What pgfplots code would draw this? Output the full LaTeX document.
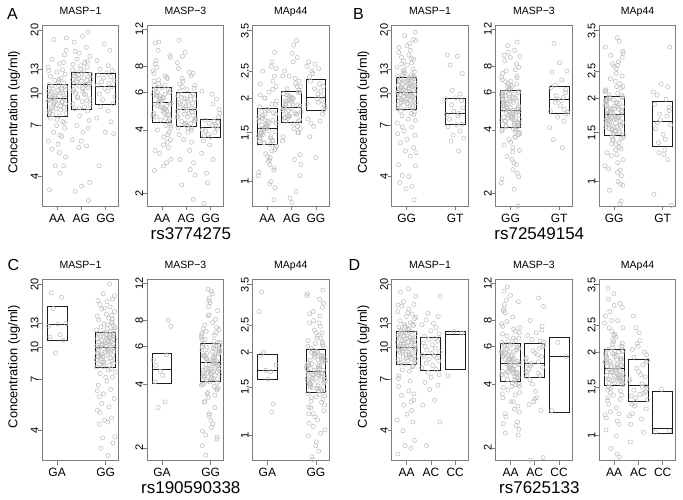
\documentclass[border=0pt]{standalone}
\usepackage{pgfplots}
\pgfplotsset{compat=1.18}
\usepackage{pgfplotstable}
\usepackage{fontspec}
\setmainfont{Liberation Sans}
\definecolor{ptgray}{RGB}{190,190,190}
\definecolor{framegray}{RGB}{125,125,125}
\definecolor{boxcol}{RGB}{30,30,30}

\pgfplotstableread{
j m1 m3 m44
-0.31 3.46 2.57 1.86
0.12 4.15 6.5 1.36
0.27 4.5 4.4 0.86
-0.08 4.5 5.45 1.57
0.35 4.95 3.6 2.2
-0.22 5.4 7.9 1.47
0.04 5.7 4.9 1.18
-0.36 5.9 5.9 1.71
0.19 6.2 2.8 1.9
-0.14 6.5 6.6 1.38
0.31 6.8 4.5 0.95
-0.02 7.0 5.5 1.59
0.23 7.3 3.8 2.3
-0.28 7.6 8.2 1.49
0.09 7.8 5.0 1.2
-0.18 7.9 6.0 1.73
0.37 8.0 2.9 1.95
-0.33 8.2 6.8 1.4
0.15 8.3 4.55 1.0
-0.05 8.4 5.6 1.61
0.29 8.5 3.9 2.4
-0.25 8.6 8.5 1.5
0.01 8.8 5.1 1.23
0.34 8.9 6.1 1.75
-0.11 9.0 3.1 2.0
0.21 9.1 7.0 1.41
-0.38 9.2 4.6 1.05
0.07 9.3 5.65 1.63
-0.19 9.4 4.0 2.5
0.32 9.5 9.0 1.51
-0.07 9.7 5.15 1.26
0.25 9.8 6.2 1.77
-0.29 9.9 3.2 2.05
0.13 10.0 7.2 1.43
-0.35 10.2 4.7 1.08
0.03 10.3 5.7 1.65
0.36 10.4 4.1 2.55
-0.16 10.5 9.5 1.52
0.18 10.6 5.2 1.29
-0.24 10.8 6.3 1.79
0.06 10.9 3.4 2.1
-0.32 11.0 7.4 1.44
0.28 11.2 4.75 1.12
-0.10 11.5 5.8 1.67
0.16 11.8 4.2 2.6
-0.27 12.0 10.3 1.54
0.33 12.3 5.3 1.32
-0.01 12.6 6.35 1.82
0.22 12.9 3.5 2.15
-0.37 13.3 7.6 1.46
0.10 13.8 4.8 1.15
-0.20 14.5 5.85 1.69
0.30 15.2 4.3 2.92
-0.13 18.0 10.4 1.55
0.38 18.3 5.35 1.34
0.14 8.7 5.0 1.45
-0.23 10.1 4.6 1.6
0.30 7.2 6.0 1.3
-0.10 9.6 5.6 1.75
0.07 11.6 3.7 1.52
-0.29 8.1 5.3 2.25
0.20 9.0 7.1 1.4
-0.35 12.8 4.8 1.65
0.12 6.3 5.9 1.22
-0.05 9.8 4.45 1.56
0.34 10.7 8.8 1.9
-0.18 8.5 5.2 1.48
0.26 14.0 3.3 1.1
-0.31 9.3 6.2 1.7
0.00 7.5 5.5 1.58
0.19 10.4 4.9 2.7
-0.14 8.9 6.9 1.38
0.37 16.0 4.2 1.62
-0.24 9.5 5.8 1.5
0.09 5.2 5.1 0.98
0.05 11.3 2.7 1.8
-0.30 8.0 6.5 1.43
0.22 10.0 4.7 1.66
-0.12 9.15 5.45 2.0
}\tAaa

\pgfplotstableread{
j m1 m3 m44
0.29 3.08 1.88 2.13
-0.25 3.4 6.1 1.65
0.01 3.6 4.2 0.84
0.34 3.75 5.0 1.87
-0.11 5.5 3.6 2.4
0.21 5.6 7.2 1.75
-0.38 6.0 4.6 1.4
0.07 6.5 5.5 1.99
-0.19 7.0 2.2 2.16
0.32 7.4 6.3 1.67
-0.07 7.8 4.25 0.87
0.25 8.2 5.05 1.89
-0.29 8.4 3.8 2.5
0.13 8.6 7.5 1.77
-0.35 8.9 4.65 1.45
0.03 9.1 5.6 2.01
0.36 9.4 2.45 2.2
-0.16 9.6 6.4 1.69
0.18 9.8 4.3 0.92
-0.24 10.0 5.1 1.91
0.06 10.2 3.9 2.7
-0.32 10.4 7.8 1.79
0.28 10.6 4.7 1.5
-0.10 10.8 5.65 2.03
0.16 11.0 2.6 2.25
-0.27 11.1 6.6 1.7
0.33 11.2 4.4 1.05
-0.01 11.4 5.2 1.93
0.22 11.5 4.0 2.8
-0.37 11.6 8.3 1.81
0.10 11.8 4.8 1.55
-0.20 11.9 5.7 2.05
0.30 12.0 2.8 2.3
-0.13 12.2 6.8 1.72
0.38 12.3 4.45 1.15
-0.26 12.5 5.3 1.95
0.08 12.7 4.05 3.1
-0.04 13.0 9.3 1.83
0.24 13.3 4.85 1.58
-0.34 13.7 5.8 2.07
0.14 14.0 3.2 2.35
-0.17 14.5 7.0 1.73
0.35 15.0 4.5 1.25
-0.09 15.5 5.4 1.97
0.20 16.5 4.1 3.22
-0.30 17.5 10.6 1.85
0.05 18.7 4.9 1.62
0.27 19.5 5.9 2.09
0.05 10.5 4.6 1.9
-0.30 12.1 5.4 1.7
0.22 9.2 3.5 2.2
-0.12 11.7 5.05 1.8
0.36 8.8 6.5 1.55
-0.03 13.5 4.3 2.0
0.17 10.9 5.8 1.75
-0.37 12.9 4.9 2.4
0.28 6.8 7.4 1.65
-0.20 11.3 4.4 1.95
0.11 9.9 5.2 1.2
-0.26 15.8 2.9 1.88
0.33 11.0 5.6 2.1
-0.08 8.5 4.75 1.72
0.02 12.4 6.2 2.9
-0.34 10.2 4.1 1.84
0.25 14.2 5.35 1.5
-0.16 9.5 8.9 2.05
0.39 11.6 4.55 1.78
-0.01 5.9 5.1 1.98
}\tAag

\pgfplotstableread{
j m1 m3 m44
-0.27 4.5 1.8 2.38
0.33 6.4 4.6 1.82
-0.01 6.5 3.7 1.22
0.22 7.3 4.15 2.03
-0.37 7.6 3.1 2.6
0.10 8.2 5.3 1.93
-0.20 8.6 3.95 1.62
0.30 8.9 4.35 2.2
-0.13 9.3 2.25 2.45
0.38 9.6 4.8 1.85
-0.26 9.9 3.75 1.45
0.08 10.2 4.2 2.07
-0.04 10.5 3.4 2.65
0.24 10.7 5.6 1.96
-0.34 10.9 4.0 1.68
0.14 11.1 4.4 2.25
-0.17 11.3 2.5 2.5
0.35 11.5 5.0 1.88
-0.09 11.8 3.8 1.58
0.20 12.0 4.25 2.12
-0.30 12.2 3.55 2.7
0.05 12.5 5.9 1.99
0.27 12.8 4.05 1.75
-0.23 13.0 4.45 2.3
0.11 13.5 2.9 2.55
-0.36 14.3 6.1 1.9
0.17 16.0 3.9 1.65
-0.06 17.2 4.3 2.16
}\tAgg

\pgfplotstableread{
j m1 m3 m44
0.31 3.1 1.75 2.05
-0.02 3.5 6.2 1.48
0.23 3.6 4.12 0.83
-0.28 3.75 4.97 1.75
0.09 4.0 3.3 2.55
-0.18 4.05 7.6 1.62
0.37 4.5 4.5 1.2
-0.33 4.55 5.6 1.9
0.15 5.0 2.1 2.08
-0.05 5.3 6.3 1.49
0.29 5.5 4.15 0.85
-0.25 5.8 5.02 1.76
0.01 6.0 3.5 2.6
0.34 6.3 7.9 1.63
-0.11 6.6 4.55 1.24
0.21 6.9 5.65 1.91
-0.38 7.2 2.25 2.11
0.07 7.5 6.4 1.51
-0.19 7.8 4.2 0.93
0.32 8.1 5.1 1.78
-0.07 8.4 3.6 2.65
0.25 8.5 8.2 1.65
-0.29 8.6 4.6 1.27
0.13 8.7 5.72 1.93
-0.35 8.8 2.35 2.14
0.03 8.9 6.5 1.52
0.36 9.0 4.25 0.97
-0.16 9.1 5.15 1.79
0.18 9.2 3.7 2.7
-0.24 9.3 8.5 1.66
0.06 9.4 4.65 1.3
-0.32 9.5 5.8 1.94
0.28 9.6 2.5 2.17
-0.10 9.65 6.6 1.54
0.16 9.7 4.3 1.0
-0.27 9.8 5.2 1.81
0.33 9.85 3.8 2.8
-0.01 9.9 8.8 1.68
0.22 10.0 4.7 1.33
-0.37 10.05 5.85 1.96
0.10 10.15 2.6 2.2
-0.20 10.2 6.75 1.55
0.30 10.3 4.35 1.05
-0.13 10.4 5.28 1.82
0.38 10.5 3.85 2.9
-0.26 10.55 9.0 1.69
0.08 10.6 4.75 1.36
-0.04 10.7 5.9 1.97
0.24 10.8 2.75 2.25
-0.34 10.9 6.9 1.57
0.14 11.0 4.4 1.08
-0.17 11.1 5.35 1.84
0.35 11.2 3.9 2.95
-0.09 11.3 9.3 1.7
0.20 11.4 4.8 1.38
-0.30 11.5 5.95 1.98
0.05 11.6 2.9 2.3
0.27 11.7 7.05 1.58
-0.23 11.75 4.42 1.11
0.11 11.85 5.4 1.85
-0.36 12.0 3.95 3.05
0.17 12.2 9.5 1.71
-0.06 12.4 4.85 1.41
0.32 12.6 6.0 2.0
-0.15 12.8 3.0 2.35
0.26 13.0 7.2 1.6
-0.39 13.3 4.45 1.14
0.02 13.6 5.47 1.87
0.21 13.9 4.0 3.2
-0.12 14.2 10.0 1.72
0.29 14.5 4.88 1.43
-0.21 14.8 6.05 2.01
0.09 15.2 3.15 2.45
-0.33 15.6 7.4 1.61
0.15 16.0 4.48 1.17
-0.31 16.5 5.53 1.88
0.12 17.2 4.05 3.3
0.27 18.0 10.4 1.73
-0.08 18.8 4.92 1.45
0.35 19.5 6.1 2.02
0.05 8.9 4.6 1.62
-0.30 11.3 5.3 1.95
0.22 9.6 3.9 1.5
-0.12 12.5 6.4 1.78
0.36 7.4 4.9 2.2
-0.03 10.2 5.6 1.42
0.17 10.8 4.2 1.7
-0.37 6.4 7.1 1.88
0.28 9.1 5.0 1.31
-0.20 13.8 4.4 2.05
0.11 10.5 5.9 1.58
-0.26 8.2 3.4 1.74
0.33 11.9 5.2 2.4
-0.08 9.9 4.7 1.55
0.02 16.8 6.8 1.83
-0.34 10.1 4.0 1.66
0.25 8.6 5.5 1.1
-0.16 12.2 4.8 1.99
0.39 5.2 8.9 1.47
-0.01 9.4 5.1 1.72
0.14 11.1 2.8 2.62
-0.23 10.7 5.8 1.6
0.30 7.9 4.3 1.8
-0.10 12.9 6.2 1.37
0.07 9.7 4.5 1.92
-0.29 10.4 5.4 1.68
0.20 14.6 3.7 1.52
-0.35 8.4 6.0 2.12
0.12 11.6 4.95 1.25
-0.05 9.2 5.7 1.76
0.34 10.9 2.4 1.86
-0.18 6.9 4.15 1.64
0.26 12.0 6.6 0.98
-0.31 9.5 5.25 1.97
0.00 11.4 4.6 1.57
0.19 8.0 7.7 1.82
-0.14 10.3 5.05 2.85
0.37 17.8 3.2 1.44
-0.24 9.0 5.45 1.73
0.09 11.0 4.85 1.69
}\tBgg

\pgfplotstableread{
j m1 m3 m44
0.14 5.3 3.3 1.98
-0.17 5.9 6.5 1.38
0.35 6.1 4.85 0.82
-0.09 6.3 5.6 1.67
0.20 6.6 4.4 2.2
-0.30 6.9 7.5 1.55
0.05 7.05 5.2 1.25
0.27 7.1 6.0 1.8
-0.23 7.5 3.6 2.05
0.11 7.8 6.9 1.42
-0.36 7.9 4.9 0.9
0.17 8.0 5.7 1.72
-0.06 8.2 4.6 2.25
0.32 8.5 7.6 1.6
-0.15 8.8 5.4 1.27
0.26 9.2 6.2 1.85
-0.39 9.4 4.1 2.1
0.02 9.5 8.3 1.48
0.21 9.9 5.0 1.2
-0.12 10.3 5.8 1.75
0.29 12.4 4.75 3.05
-0.21 13.6 10.25 1.63
0.09 15.0 5.5 1.3
-0.33 15.2 6.35 1.9
}\tBgt

\pgfplotstableread{
j m1 m3 m44
-0.07 9.4 4.6 1.72
0.25 10.8 8.0 1.3
-0.29 11.2 4.1 1.95
0.13 11.5 3.3 1.7
-0.35 12.6 5.2 2.8
0.03 12.9 4.4 1.6
0.36 13.0 7.5 1.8
-0.16 15.3 3.1 2.0
0.18 17.3 5.5 1.22
-0.24 18.2 4.9 3.3
}\tCga

\pgfplotstableread{
j m1 m3 m44
0.10 3.05 5.1 1.45
-0.20 3.3 1.85 2.06
0.30 3.5 6.3 1.72
-0.13 3.7 4.15 0.82
0.38 3.75 5.7 1.58
-0.26 4.3 3.3 2.55
0.08 4.4 7.8 1.88
-0.04 4.5 4.6 1.17
0.24 4.6 5.15 1.46
-0.34 5.0 2.05 2.1
0.14 5.2 6.4 1.74
-0.17 5.4 4.2 0.84
0.35 5.7 5.75 1.6
-0.09 6.0 3.45 2.6
0.20 6.3 8.1 1.9
-0.30 6.6 4.65 1.2
0.05 6.9 5.2 1.48
0.27 7.2 2.2 2.13
-0.23 7.5 6.5 1.75
0.11 7.8 4.25 0.88
-0.36 8.05 5.8 1.61
0.17 8.2 3.55 2.7
-0.06 8.3 8.5 1.92
0.32 8.4 4.7 1.23
-0.15 8.5 5.27 1.49
0.26 8.6 2.25 2.17
-0.39 8.7 6.65 1.77
0.02 8.8 4.3 0.95
0.21 8.9 5.85 1.63
-0.12 9.0 3.65 2.8
0.29 9.1 8.9 1.93
-0.21 9.2 4.75 1.26
0.09 9.3 5.33 1.51
-0.33 9.4 2.4 2.2
0.15 9.5 6.8 1.79
-0.31 9.6 4.35 1.0
0.12 9.7 5.9 1.64
0.27 9.8 3.75 2.9
-0.08 9.85 9.3 1.95
0.35 9.9 4.8 1.29
-0.22 10.0 5.4 1.52
0.04 10.1 2.5 2.25
-0.36 10.15 6.95 1.8
0.19 10.2 4.4 1.02
-0.14 10.3 5.95 1.66
0.31 10.4 3.85 3.0
-0.02 10.5 9.7 1.97
0.23 10.6 4.85 1.32
-0.28 10.65 5.45 1.54
0.09 10.7 2.6 2.3
-0.18 10.8 7.1 1.82
0.37 10.9 4.45 1.05
-0.33 11.0 6.0 1.67
0.15 11.1 3.9 3.1
-0.05 11.2 10.2 1.98
0.29 11.3 4.9 1.35
-0.25 11.4 5.5 1.55
0.01 11.5 2.7 2.35
0.34 11.6 7.25 1.84
-0.11 11.7 4.5 1.08
0.21 11.9 6.05 1.68
-0.38 12.1 3.95 3.2
0.07 12.3 10.7 2.0
-0.19 12.5 4.95 1.37
0.32 12.7 5.55 1.56
-0.07 12.9 2.85 2.4
0.25 13.2 7.4 1.85
-0.29 13.5 4.52 1.11
0.13 13.8 6.1 1.69
-0.35 14.1 4.0 3.25
0.03 14.4 11.0 2.01
0.36 14.8 5.0 1.39
-0.16 15.2 5.6 1.57
0.18 15.6 3.1 2.48
-0.24 16.0 7.6 1.87
0.06 16.5 4.55 1.14
-0.32 16.7 6.18 1.7
0.28 17.0 4.08 3.35
-0.10 18.0 11.2 2.03
0.16 20.0 5.05 1.41
0.09 10.6 5.0 1.75
-0.24 8.3 4.4 1.5
0.37 12.4 6.1 1.9
-0.14 9.3 3.6 1.62
0.19 11.2 5.5 2.25
0.00 7.2 4.8 1.38
-0.31 10.0 7.3 1.83
0.26 13.1 4.2 1.68
-0.18 8.8 5.3 2.0
0.34 9.6 5.9 1.45
-0.05 15.4 2.9 1.72
0.12 10.3 4.6 2.55
-0.35 6.2 6.5 1.58
0.20 11.5 5.1 1.95
-0.29 9.1 4.0 1.27
0.07 12.8 5.7 1.8
-0.10 8.1 8.4 1.65
0.30 10.9 4.9 2.1
-0.23 4.9 3.3 1.53
0.14 9.8 5.4 1.77
-0.01 11.8 4.5 0.92
0.39 7.6 6.3 1.86
-0.16 10.2 5.2 1.6
0.25 14.2 3.8 2.35
-0.34 9.4 6.0 1.42
0.02 11.0 4.7 1.7
-0.08 8.5 9.9 1.98
0.33 12.1 5.6 1.55
-0.26 5.8 4.3 2.75
0.11 10.7 5.15 1.66
-0.20 9.0 2.3 1.33
0.28 13.6 4.55 1.88
-0.37 8.7 6.8 1.74
0.17 11.3 5.35 1.48
-0.03 9.5 4.1 2.15
0.36 17.6 5.8 1.63
-0.12 10.4 4.75 1.2
0.22 7.9 7.0 1.93
-0.30 11.6 5.45 1.79
0.05 9.7 4.25 1.57
}\tCgg

\pgfplotstableread{
j m1 m3 m44
-0.36 3.1 6.3 0.8
0.17 3.3 4.15 1.75
-0.06 3.4 5.07 2.07
0.32 3.6 2.3 1.53
-0.15 4.0 7.9 1.22
0.26 4.4 4.55 1.9
-0.39 4.5 5.65 2.55
0.02 4.8 3.3 1.64
0.21 5.0 6.45 0.84
-0.12 5.3 4.2 1.77
0.29 5.6 5.12 2.1
-0.21 5.9 2.35 1.54
0.09 6.2 8.3 1.26
-0.33 6.5 4.6 1.92
0.15 6.9 5.7 2.6
-0.31 7.3 3.45 1.65
0.12 7.7 6.6 0.86
0.27 8.1 4.25 1.79
-0.08 8.3 5.18 2.14
0.35 8.4 2.45 1.56
-0.22 8.5 8.7 1.3
0.04 8.6 4.65 1.93
-0.36 8.75 5.75 2.7
0.19 8.85 3.55 1.66
-0.14 9.0 6.75 0.9
0.31 9.1 4.3 1.8
-0.02 9.2 5.25 2.18
0.23 9.3 2.55 1.57
-0.28 9.4 9.1 1.34
0.09 9.5 4.7 1.95
-0.18 9.6 5.82 2.8
0.37 9.7 3.65 1.68
-0.33 9.75 6.9 1.05
0.15 9.8 4.35 1.82
-0.05 9.9 5.3 2.22
0.29 9.95 2.65 1.58
-0.25 10.05 9.5 1.37
0.01 10.15 4.78 1.97
0.34 10.25 5.9 2.9
-0.11 10.35 3.75 1.69
0.21 10.45 7.1 1.1
-0.38 10.55 4.4 1.84
0.07 10.65 5.38 2.27
-0.19 10.75 2.8 1.6
0.32 10.85 9.8 1.4
-0.07 10.95 4.85 1.98
0.25 11.05 5.97 3.0
-0.29 11.15 3.85 1.7
0.13 11.25 7.3 1.13
-0.35 11.4 4.45 1.85
0.03 11.5 5.45 2.32
0.36 11.6 2.95 1.61
-0.16 11.75 10.0 1.43
0.18 11.9 4.9 2.0
-0.24 12.1 6.05 3.1
0.06 12.3 3.9 1.71
-0.32 12.5 7.5 1.16
0.28 12.7 4.5 1.87
-0.10 12.9 5.52 2.38
0.16 13.1 3.05 1.62
-0.27 13.4 11.0 1.46
0.33 13.7 4.95 2.01
-0.01 14.0 6.1 3.25
0.22 14.4 3.98 1.72
-0.37 14.8 7.7 1.19
0.10 15.2 4.52 1.88
-0.20 15.7 5.58 2.45
0.30 16.0 3.15 1.63
-0.13 16.5 11.5 1.49
0.38 17.5 5.0 2.03
-0.26 18.3 6.17 3.4
0.08 19.0 4.05 1.73
0.11 9.2 4.7 1.8
-0.26 11.4 5.5 1.6
0.33 8.6 4.0 2.1
-0.08 12.6 6.4 1.7
0.02 10.1 5.1 1.55
-0.34 7.1 3.6 1.95
0.25 10.8 5.8 1.35
-0.16 9.5 4.4 1.85
0.39 13.9 7.4 1.65
-0.01 8.9 4.9 2.3
0.14 11.1 5.3 1.75
-0.23 10.4 2.9 1.5
0.30 6.0 6.0 1.9
-0.10 9.8 4.6 2.6
0.07 12.2 5.2 1.62
-0.29 8.4 8.9 1.78
0.20 10.6 4.2 1.2
-0.35 15.9 5.6 1.98
0.12 9.0 3.3 1.68
-0.05 11.7 4.8 1.58
0.34 10.2 6.6 2.15
-0.18 7.8 5.0 1.73
0.26 12.9 4.3 1.45
-0.31 9.6 5.4 1.88
0.00 11.0 10.5 2.95
0.19 5.5 4.5 1.64
-0.14 10.5 5.9 1.82
0.37 8.8 3.9 1.53
-0.24 11.9 5.25 2.05
0.09 9.3 4.75 1.0
0.05 14.6 6.2 1.76
-0.30 10.0 2.6 1.92
0.22 8.1 5.05 1.6
-0.12 11.3 4.55 1.7
0.36 9.9 7.0 2.45
-0.03 12.4 5.7 1.4
}\tDaa

\pgfplotstableread{
j m1 m3 m44
-0.18 3.4 1.75 1.92
0.37 4.4 6.3 1.35
-0.33 5.3 4.35 0.95
0.15 5.6 5.1 1.54
-0.05 6.3 3.3 2.15
0.29 6.6 7.2 1.44
-0.25 6.8 4.7 1.2
0.01 7.2 5.6 1.7
0.34 7.4 1.8 1.96
-0.11 7.6 6.5 1.37
0.21 7.85 4.4 1.03
-0.38 8.0 5.2 1.57
0.07 8.2 3.45 2.2
-0.19 8.4 8.0 1.46
0.32 8.6 4.8 1.25
-0.07 8.8 5.75 1.75
0.25 8.9 3.0 2.0
-0.29 9.0 6.8 1.39
0.13 9.1 4.5 1.15
-0.35 9.2 5.3 1.6
0.03 9.35 3.7 2.35
0.36 9.5 9.3 1.48
-0.16 9.7 4.9 1.28
0.18 9.9 5.9 1.8
-0.24 10.1 3.2 2.05
0.06 10.3 7.0 1.41
-0.32 10.5 4.55 1.1
0.28 10.7 5.4 1.63
-0.10 10.9 4.0 2.45
0.16 11.0 10.2 1.5
-0.27 11.3 4.95 1.3
0.33 11.6 6.0 1.84
-0.01 12.0 3.4 2.1
0.22 12.4 6.4 1.42
-0.37 12.8 4.6 1.18
0.10 13.0 5.5 1.66
-0.20 13.5 4.2 2.7
0.30 14.0 7.5 1.51
-0.13 14.5 5.0 1.32
0.38 17.5 6.1 1.87
}\tDac

\pgfplotstableread{
j m1 m3 m44
-0.05 11.9 6.3 1.47
0.28 11.7 5.4 1.04
-0.30 7.3 3.0 1.03
}\tDcc

\pgfplotsset{
  mypanel/.style={scale only axis, width=76.5pt, height=181pt,
    xmin=0.39, xmax=3.54,
    axis line style={draw=framegray, line width=0.9pt},
    tick style={draw=framegray, line width=0.7pt},
    tick align=outside, major tick length=4pt, tick pos=left,
    xticklabel style={font=\fontsize{12}{14}\selectfont},
    yticklabel style={font=\fontsize{11}{13}\selectfont, rotate=90, anchor=base},
    title style={font=\fontsize{10.5}{12}\selectfont, anchor=base, yshift=5pt},
    ylabel style={font=\fontsize{12.8}{14}\selectfont, at={(axis description cs:-0.37,0.52)}, anchor=center},
    xlabel style={font=\fontsize{17}{19}\selectfont, at={(axis description cs:0.57,-0.18)}, anchor=base},
  },
  ymone/.style={ymin=2.88, ymax=21, ytick={4,7,10,13,20}, yticklabels={4,7,10,13,20}, title={MASP−1}},
  ymthree/.style={ymin=1.74, ymax=12.45, ytick={2,4,6,8,12}, yticklabels={2,4,6,8,12}, title={MASP−3}},
  ymfour/.style={ymin=0.813, ymax=3.65, ytick={1,1.5,2,2.5,3.5}, yticklabels={1,1.5,2,2.5,3.5}, title={MAp44}},
  threecat/.style={xtick={1,2,3}},
  twocat/.style={xtick={1,3}},
  mypts/.style={only marks, mark=o, mark size=2.1pt, draw=ptgray, mark options={draw=ptgray, line width=0.55pt}},
  mybox/.style={draw=boxcol, line width=1pt, line cap=rect, mark=none},
}
\newcommand{\bx}[5]{%
  \addplot[mybox] coordinates {(#1,#3) (#2,#3) (#2,#5) (#1,#5) (#1,#3)};
  \addplot[mybox] coordinates {(#1,#4) (#2,#4)};}

\begin{document}
\begin{tikzpicture}
\useasboundingbox (0,0) rectangle (683pt,499pt);
\node[anchor=base west, inner sep=0, font=\fontsize{16}{18}\selectfont] at (7pt,479pt) {A};
\node[anchor=base west, inner sep=0, font=\fontsize{16}{18}\selectfont] at (353pt,479pt) {B};
\node[anchor=base west, inner sep=0, font=\fontsize{16}{18}\selectfont] at (7.5pt,229pt) {C};
\node[anchor=base west, inner sep=0, font=\fontsize{16}{18}\selectfont] at (348.5pt,229pt) {D};

% ---------------- A ----------------
\begin{semilogyaxis}[mypanel, ymone, threecat, at={(42.3pt,292.5pt)}, xticklabels={AA,AG,GG}, ylabel={Concentration (ug/ml)}]
\addplot[mypts] table[x expr=\thisrow{j}+1, y=m1]{\tAaa};
\addplot[mypts] table[x expr=\thisrow{j}+2, y=m1]{\tAag};
\addplot[mypts] table[x expr=\thisrow{j}+3, y=m1]{\tAgg};
\bx{0.59}{1.41}{7.76}{9.38}{10.94}
\bx{1.59}{2.41}{8.35}{10.94}{12.56}
\bx{2.59}{3.41}{8.82}{10.78}{12.35}
\end{semilogyaxis}
\begin{semilogyaxis}[mypanel, ymthree, threecat, at={(147.2pt,292.5pt)}, xticklabels={AA,AG,GG}, xlabel={rs3774275}]
\addplot[mypts] table[x expr=\thisrow{j}+1, y=m3]{\tAaa};
\addplot[mypts] table[x expr=\thisrow{j}+2, y=m3]{\tAag};
\addplot[mypts] table[x expr=\thisrow{j}+3, y=m3]{\tAgg};
\bx{0.59}{1.41}{4.35}{5.40}{6.36}
\bx{1.59}{2.41}{4.15}{4.98}{5.98}
\bx{2.59}{3.41}{3.67}{4.12}{4.49}
\end{semilogyaxis}
\begin{semilogyaxis}[mypanel, ymfour, threecat, at={(252.6pt,292.5pt)}, xticklabels={AA,AG,GG}]
\addplot[mypts] table[x expr=\thisrow{j}+1, y=m44]{\tAaa};
\addplot[mypts] table[x expr=\thisrow{j}+2, y=m44]{\tAag};
\addplot[mypts] table[x expr=\thisrow{j}+3, y=m44]{\tAgg};
\bx{0.59}{1.41}{1.356}{1.556}{1.83}
\bx{1.59}{2.41}{1.636}{1.853}{2.11}
\bx{2.59}{3.41}{1.80}{2.012}{2.34}
\end{semilogyaxis}

% ---------------- B ----------------
\begin{semilogyaxis}[mypanel, ymone, twocat, at={(391.8pt,292.5pt)}, xticklabels={GG,GT}, ylabel={Concentration (ug/ml)}]
\addplot[mypts] table[x expr=\thisrow{j}+1, y=m1]{\tBgg};
\addplot[mypts] table[x expr=\thisrow{j}+3, y=m1]{\tBgt};
\bx{0.59}{1.41}{8.32}{10.09}{11.89}
\bx{2.59}{3.41}{7.06}{7.96}{9.45}
\end{semilogyaxis}
\begin{semilogyaxis}[mypanel, ymthree, twocat, at={(495.7pt,292.5pt)}, xticklabels={GG,GT}, xlabel={rs72549154}]
\addplot[mypts] table[x expr=\thisrow{j}+1, y=m3]{\tBgg};
\addplot[mypts] table[x expr=\thisrow{j}+3, y=m3]{\tBgt};
\bx{0.59}{1.41}{4.09}{4.94}{6.14}
\bx{2.59}{3.41}{4.80}{5.55}{6.41}
\end{semilogyaxis}
\begin{semilogyaxis}[mypanel, ymfour, twocat, at={(599.3pt,292.5pt)}, xticklabels={GG,GT}]
\addplot[mypts] table[x expr=\thisrow{j}+1, y=m44]{\tBgg};
\addplot[mypts] table[x expr=\thisrow{j}+3, y=m44]{\tBgt};
\bx{0.59}{1.41}{1.465}{1.74}{2.03}
\bx{2.59}{3.41}{1.337}{1.649}{1.94}
\end{semilogyaxis}

% ---------------- C ----------------
\begin{semilogyaxis}[mypanel, ymone, twocat, at={(42.3pt,38.3pt)}, xticklabels={GA,GG}, ylabel={Concentration (ug/ml)}]
\addplot[mypts] table[x expr=\thisrow{j}+1, y=m1]{\tCga};
\addplot[mypts] table[x expr=\thisrow{j}+3, y=m1]{\tCgg};
\bx{0.59}{1.41}{10.75}{12.9}{15.6}
\bx{2.59}{3.41}{7.98}{9.97}{11.76}
\end{semilogyaxis}
\begin{semilogyaxis}[mypanel, ymthree, twocat, at={(147.2pt,38.3pt)}, xticklabels={GA,GG}, xlabel={rs190590338}]
\addplot[mypts] table[x expr=\thisrow{j}+1, y=m3]{\tCga};
\addplot[mypts] table[x expr=\thisrow{j}+3, y=m3]{\tCgg};
\bx{0.59}{1.41}{4.03}{4.69}{5.57}
\bx{2.59}{3.41}{4.12}{5.08}{6.22}
\end{semilogyaxis}
\begin{semilogyaxis}[mypanel, ymfour, twocat, at={(252.6pt,38.3pt)}, xticklabels={GA,GG}]
\addplot[mypts] table[x expr=\thisrow{j}+1, y=m44]{\tCga};
\addplot[mypts] table[x expr=\thisrow{j}+3, y=m44]{\tCgg};
\bx{0.59}{1.41}{1.59}{1.72}{1.96}
\bx{2.59}{3.41}{1.43}{1.71}{2.04}
\end{semilogyaxis}

% ---------------- D ----------------
\begin{semilogyaxis}[mypanel, ymone, threecat, at={(391.8pt,38.3pt)}, xticklabels={AA,AC,CC}, ylabel={Concentration (ug/ml)}]
\addplot[mypts] table[x expr=\thisrow{j}+1, y=m1]{\tDaa};
\addplot[mypts] table[x expr=\thisrow{j}+2, y=m1]{\tDac};
\addplot[mypts] table[x expr=\thisrow{j}+3, y=m1]{\tDcc};
\bx{0.59}{1.41}{8.25}{10.0}{11.95}
\bx{1.59}{2.41}{7.75}{9.27}{11.1}
\bx{2.59}{3.41}{7.8}{11.55}{11.85}
\end{semilogyaxis}
\begin{semilogyaxis}[mypanel, ymthree, threecat, at={(495.7pt,38.3pt)}, xticklabels={AA,AC,CC}, xlabel={rs7625133}]
\addplot[mypts] table[x expr=\thisrow{j}+1, y=m3]{\tDaa};
\addplot[mypts] table[x expr=\thisrow{j}+2, y=m3]{\tDac};
\addplot[mypts] table[x expr=\thisrow{j}+3, y=m3]{\tDcc};
\bx{0.59}{1.41}{4.1}{5.03}{6.2}
\bx{1.59}{2.41}{4.3}{5.03}{6.2}
\bx{2.59}{3.41}{2.95}{5.38}{6.67}
\end{semilogyaxis}
\begin{semilogyaxis}[mypanel, ymfour, threecat, at={(599.3pt,38.3pt)}, xticklabels={AA,AC,CC}]
\addplot[mypts] table[x expr=\thisrow{j}+1, y=m44]{\tDaa};
\addplot[mypts] table[x expr=\thisrow{j}+2, y=m44]{\tDac};
\addplot[mypts] table[x expr=\thisrow{j}+3, y=m44]{\tDcc};
\bx{0.59}{1.41}{1.52}{1.74}{2.04}
\bx{1.59}{2.41}{1.33}{1.52}{1.89}
\bx{2.59}{3.41}{1.02}{1.06}{1.444}
\end{semilogyaxis}
\end{tikzpicture}
\end{document}
